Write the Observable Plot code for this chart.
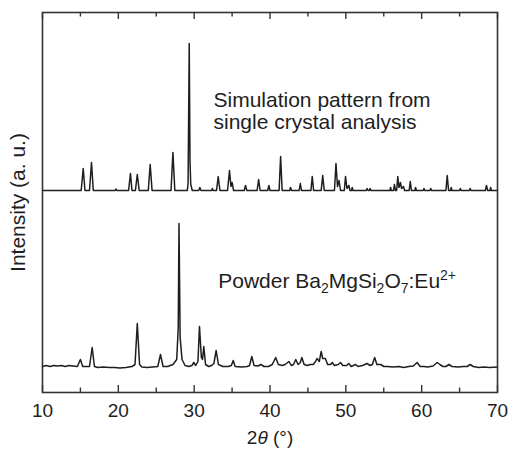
<!DOCTYPE html>
<html><head><meta charset="utf-8">
<script src="https://cdn.jsdelivr.net/npm/d3@7"></script>
<script src="https://cdn.jsdelivr.net/npm/@observablehq/plot@0.6"></script>
<style>html,body{margin:0;padding:0;background:#fff}</style>
</head><body><div id="chart"></div>
<script>
// Simulation pattern (2θ in degrees, relative intensity)
const simTheta = [10,15.1,15.37,15.6,16.2,16.46,16.7,19.6,19.7,19.8,21.35,21.6,21.8,22.25,22.5,22.75,23.95,24.2,24.45,26.95,27.2,27.45,29.1,29.2,29.35,29.45,29.55,29.75,30.6,30.75,30.9,32.3,32.4,32.5,32.95,33.17,33.4,34.4,34.66,34.85,35.0,35.2,36.6,36.77,36.95,38.3,38.5,38.7,39.7,39.85,40.0,41.2,41.4,41.6,42.6,42.7,42.85,43.85,44.0,44.15,45.4,45.57,45.75,46.75,46.95,47.15,48.5,48.7,48.9,49.1,49.3,49.8,49.96,50.15,50.4,50.55,50.75,50.84,50.95,52.7,52.8,52.95,53.1,53.2,53.3,55.8,55.9,56.0,56.3,56.4,56.55,56.7,56.85,57.0,57.2,57.35,57.6,57.75,58.35,58.5,58.65,59.1,59.2,59.3,60.2,60.3,60.4,61.1,61.2,61.3,63.2,63.37,63.55,63.8,63.9,64.0,65.0,65.1,65.2,66.3,66.4,66.5,68.4,68.55,68.7,69.0,69.1,69.2,70];
const simIntensity = [0,0,22,0,0,28,0,0,1.5,0,0,17,0,0,16,0,0,26,0,0,38,0,0,8,147,30,6,0,0,3,0,0,2,0,0,14,0,0,20,4,8,0,0,5,0,0,11,0,0,5,0,0,34,0,0,3,0,0,7,0,0,14,0,0,15,0,0,27,4,10,0,0,14,2,5,0,0,3,0,0,2,0,0,2,0,0,3,0,0,6,0,0,14,3,8,2,4,0,0,9,0,0,3,0,0,2,0,0,2,0,0,15,0,0,3,0,0,2,0,0,2,0,0,5,0,0,3,0,0];

// Powder Ba2MgSi2O7:Eu2+ pattern
const powderTheta = [10,10.5,11,11.5,12,12.5,13,13.5,14,14.6,15.0,15.3,15.8,16.2,16.55,16.85,17.3,18,18.8,19.5,20.2,21,21.8,22.2,22.5,22.8,23.1,23.8,24.5,25.2,25.56,25.9,26.5,27.2,27.7,27.9,28.0,28.15,28.4,28.8,29.3,29.7,29.95,30.2,30.5,30.7,30.95,31.1,31.27,31.5,31.9,32.3,32.6,32.9,33.2,33.8,34.5,34.9,35.15,35.4,36.2,37.0,37.3,37.6,37.9,38.4,38.8,39.2,39.8,40.3,40.75,41.1,41.6,42.0,42.5,42.8,43.1,43.4,43.7,44.0,44.2,44.5,44.9,45.3,45.7,46.0,46.2,46.5,46.75,46.95,47.3,47.6,48.0,48.2,48.5,49.0,49.3,49.6,50.1,50.4,50.7,51.0,51.3,51.6,52.2,52.8,53.2,53.5,53.8,54.1,54.6,55,55.5,56.2,57,57.6,58.3,58.9,59.4,59.8,60.3,60.8,61.5,62.05,62.4,62.8,63.2,63.6,64.0,64.8,65.5,66.0,66.4,66.8,67.5,68.2,69,70];
const powderIntensity = [1,2,1,2,1.5,2,1,2,1.5,1,8,1,1,1,20,1,0,0.5,0,0,-0.5,0,1,3,44,3,0.5,0,0.5,1,13,1,1,3,8,40,144,30,8,2,1,2,5,2,6,41,10,8,21,3,1,2,4,17,3,1,1,2,7,1,0.5,1,2,11,2,1.5,3,1,1,3,10,3,2,3,6,2,3,8,3,5,10,3,2,3,3,6,9,6,16,9,9,3,3,5,2,3,5,2,2,4,1,2,3,1,2,4,2,3,10,3,3,1,1,0.5,1,0,1,1.5,5,1,1,0.5,1.5,5,3,1,1,3,1,0.5,1,1,3,1,0,0.5,0,0.5];

const simOffset = 202;
const powderOffset = 25;
const majorTicks = [10,20,30,40,50,60,70];
const minorTicks = [15,25,35,45,55,65];
const yLabel = "Intensity (a. u.)";
const xLabel = "2θ (°)";
const simLabel = "Simulation pattern from\nsingle crystal analysis";
const powderLabel = "Powder Ba2MgSi2O7:Eu2+";

const sim = simTheta.map((t, i) => ({theta: t, v: simIntensity[i] + simOffset}));
const powder = powderTheta.map((t, i) => ({theta: t, v: powderIntensity[i] + powderOffset}));
const ink = "#1e1e1e";

const chart = Plot.plot({
  width: 508, height: 452,
  marginLeft: 42, marginRight: 11, marginTop: 12, marginBottom: 60,
  style: {fontFamily: "'Liberation Sans', Arial, sans-serif", color: ink, background: "#fff"},
  x: {domain: [10, 70]},
  y: {domain: [0, 380], axis: null},
  marks: [
    Plot.line(sim, {x: "theta", y: "v", stroke: ink, strokeWidth: 1.5}),
    Plot.line(powder, {x: "theta", y: "v", stroke: ink, strokeWidth: 1.5}),
    Plot.frame({stroke: "#333", strokeWidth: 1.6}),
    Plot.ruleX(majorTicks, {y1: 0, y2: 7, stroke: "#333", strokeWidth: 1.4}),
    Plot.ruleX(majorTicks, {y1: 373, y2: 380, stroke: "#333", strokeWidth: 1.4}),
    Plot.ruleX(minorTicks, {y1: 0, y2: 4.5, stroke: "#333", strokeWidth: 1.4}),
    Plot.ruleX(minorTicks, {y1: 375.5, y2: 380, stroke: "#333", strokeWidth: 1.4}),
    Plot.axisX({ticks: majorTicks, tickSize: 0, tickPadding: 11, fontSize: 19, label: null, tickFormat: d => String(d)}),
    Plot.text([yLabel], {x: () => 6.85, y: () => 190, rotate: -90, fontSize: 21, fill: ink}),
    Plot.text([xLabel], {frameAnchor: "bottom", dy: 51, fontSize: 19, fill: ink, className: "xlab"}),
    Plot.text([simLabel], {x: () => 32.55, y: () => 281.5, textAnchor: "start", lineHeight: 1.05, fontSize: 21, fill: ink}),
    Plot.text([powderLabel], {x: () => 33.17, y: () => 111, textAnchor: "start", fontSize: 21, fill: ink, className: "plab"})
  ]
});
document.getElementById("chart").appendChild(chart);

// rich text formatting (italic θ, sub/superscripts)
function richen(sel, parts) {
  const t = d3.select(chart).select(sel + " text");
  t.text(null);
  parts.forEach(p => {
    const s = t.append("tspan").text(p.t);
    if (p.italic) s.attr("font-style", "italic");
    if (p.size) s.attr("font-size", p.size);
    if (p.dy) s.attr("dy", p.dy);
  });
}
richen(".xlab", [{t: "2"}, {t: "θ", italic: true}, {t: " (°)"}]);
richen(".plab", [
  {t: "Powder Ba"}, {t: "2", size: 14, dy: 5}, {t: "MgSi", dy: -5}, {t: "2", size: 14, dy: 5},
  {t: "O", dy: -5}, {t: "7", size: 14, dy: 5}, {t: ":Eu", dy: -5}, {t: "2+", size: 14, dy: -8}
]);
</script>
</body></html>
